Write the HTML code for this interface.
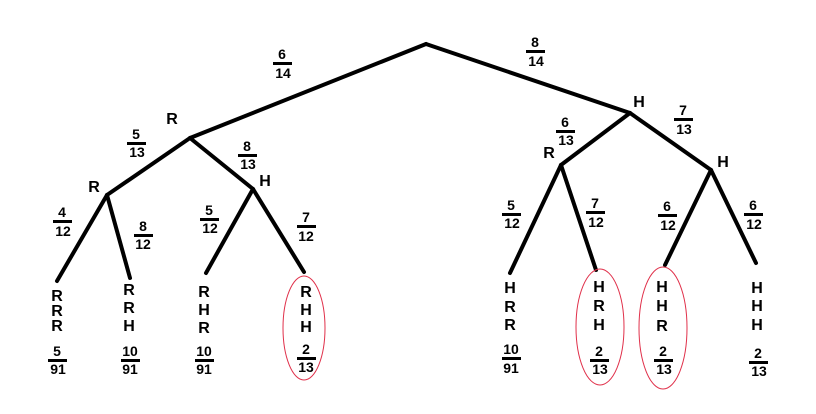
<!DOCTYPE html>
<html><head><meta charset="utf-8"><style>
html,body{margin:0;padding:0;background:#fff;}
svg{display:block;}
text{font-family:"Liberation Sans",Arial,sans-serif;font-weight:bold;fill:#000;text-anchor:middle;}
.l{font-size:16px;}
.f{font-size:14px;}
</style></head><body>
<svg width="816" height="414" viewBox="0 0 816 414" xmlns="http://www.w3.org/2000/svg">
<g stroke="#000" stroke-width="4" stroke-linecap="round" fill="none">
<line x1="426" y1="44" x2="190" y2="138"/>
<line x1="426" y1="44" x2="630" y2="113"/>
<line x1="190" y1="138" x2="107" y2="195"/>
<line x1="190" y1="138" x2="253" y2="189"/>
<line x1="107" y1="195" x2="57" y2="281"/>
<line x1="107" y1="195" x2="130" y2="278"/>
<line x1="253" y1="189" x2="206" y2="273"/>
<line x1="253" y1="189" x2="304" y2="272"/>
<line x1="630" y1="113" x2="561" y2="165"/>
<line x1="630" y1="113" x2="711" y2="170"/>
<line x1="561" y1="165" x2="510" y2="273"/>
<line x1="561" y1="165" x2="596" y2="270"/>
<line x1="711" y1="170" x2="665" y2="265"/>
<line x1="711" y1="170" x2="756" y2="263"/>
</g>
<g fill="none" stroke="#e0304a" stroke-width="1">
<ellipse cx="304" cy="328" rx="21" ry="52"/>
<ellipse cx="600" cy="327" rx="24" ry="58"/>
<ellipse cx="663" cy="328" rx="24" ry="61"/>
</g>
<g class="f" stroke="none">
<text x="282" y="59">6</text><rect x="273" y="62" width="19" height="3"/><text x="283" y="78">14</text>
<text x="535" y="47">8</text><rect x="526" y="50" width="19" height="3"/><text x="536" y="66">14</text>
<text x="136" y="139">5</text><rect x="127" y="142" width="19" height="3"/><text x="137" y="157">13</text>
<text x="247" y="151">8</text><rect x="238" y="154" width="19" height="3"/><text x="248" y="169">13</text>
<text x="62" y="217">4</text><rect x="53" y="220" width="19" height="3"/><text x="63" y="236">12</text>
<text x="143" y="231">8</text><rect x="134" y="234" width="19" height="3"/><text x="143" y="249">12</text>
<text x="209" y="215">5</text><rect x="200" y="218" width="19" height="3"/><text x="210" y="233">12</text>
<text x="306" y="222">7</text><rect x="297" y="225" width="19" height="3"/><text x="306" y="241">12</text>
<text x="565" y="127">6</text><rect x="556" y="130" width="19" height="3"/><text x="566" y="145">13</text>
<text x="683" y="115">7</text><rect x="674" y="118" width="19" height="3"/><text x="684" y="134">13</text>
<text x="511" y="210">5</text><rect x="502" y="213" width="19" height="3"/><text x="512" y="228">12</text>
<text x="595" y="208">7</text><rect x="586" y="211" width="19" height="3"/><text x="596" y="227">12</text>
<text x="667" y="211">6</text><rect x="658" y="214" width="19" height="3"/><text x="668" y="230">12</text>
<text x="753" y="210">6</text><rect x="744" y="213" width="19" height="3"/><text x="754" y="229">12</text>
<text x="57" y="356">5</text><rect x="48" y="359" width="19" height="3"/><text x="58" y="374">91</text>
<text x="130" y="356">10</text><rect x="121" y="359" width="19" height="3"/><text x="130" y="374">91</text>
<text x="204" y="356">10</text><rect x="195" y="359" width="19" height="3"/><text x="204" y="374">91</text>
<text x="306" y="354">2</text><rect x="297" y="357" width="19" height="3"/><text x="306" y="372">13</text>
<text x="511" y="354">10</text><rect x="502" y="357" width="19" height="3"/><text x="511" y="373">91</text>
<text x="599" y="356">2</text><rect x="590" y="359" width="19" height="3"/><text x="600" y="374">13</text>
<text x="663" y="356">2</text><rect x="654" y="359" width="19" height="3"/><text x="664" y="374">13</text>
<text x="758" y="358">2</text><rect x="749" y="361" width="19" height="3"/><text x="759" y="376">13</text>
</g>
<g class="l">
<text x="172" y="124">R</text>
<text x="94" y="192">R</text>
<text x="265" y="186">H</text>
<text x="639" y="107">H</text>
<text x="549" y="158">R</text>
<text x="723" y="167">H</text>

<text x="57" y="301">R</text><text x="57" y="316">R</text><text x="57" y="331">R</text>
<text x="129" y="295">R</text><text x="129" y="313">R</text><text x="129" y="331">H</text>
<text x="204" y="297">R</text><text x="204" y="315">H</text><text x="204" y="333">R</text>
<text x="306" y="297">R</text><text x="306" y="315">H</text><text x="306" y="332">H</text>
<text x="510" y="293">H</text><text x="510" y="312">R</text><text x="510" y="330">R</text>
<text x="599" y="292">H</text><text x="599" y="311">R</text><text x="599" y="330">H</text>
<text x="662" y="292">H</text><text x="662" y="311">H</text><text x="662" y="331">R</text>
<text x="757" y="293">H</text><text x="757" y="311">H</text><text x="757" y="330">H</text>
</g>
</svg>
</body></html>
